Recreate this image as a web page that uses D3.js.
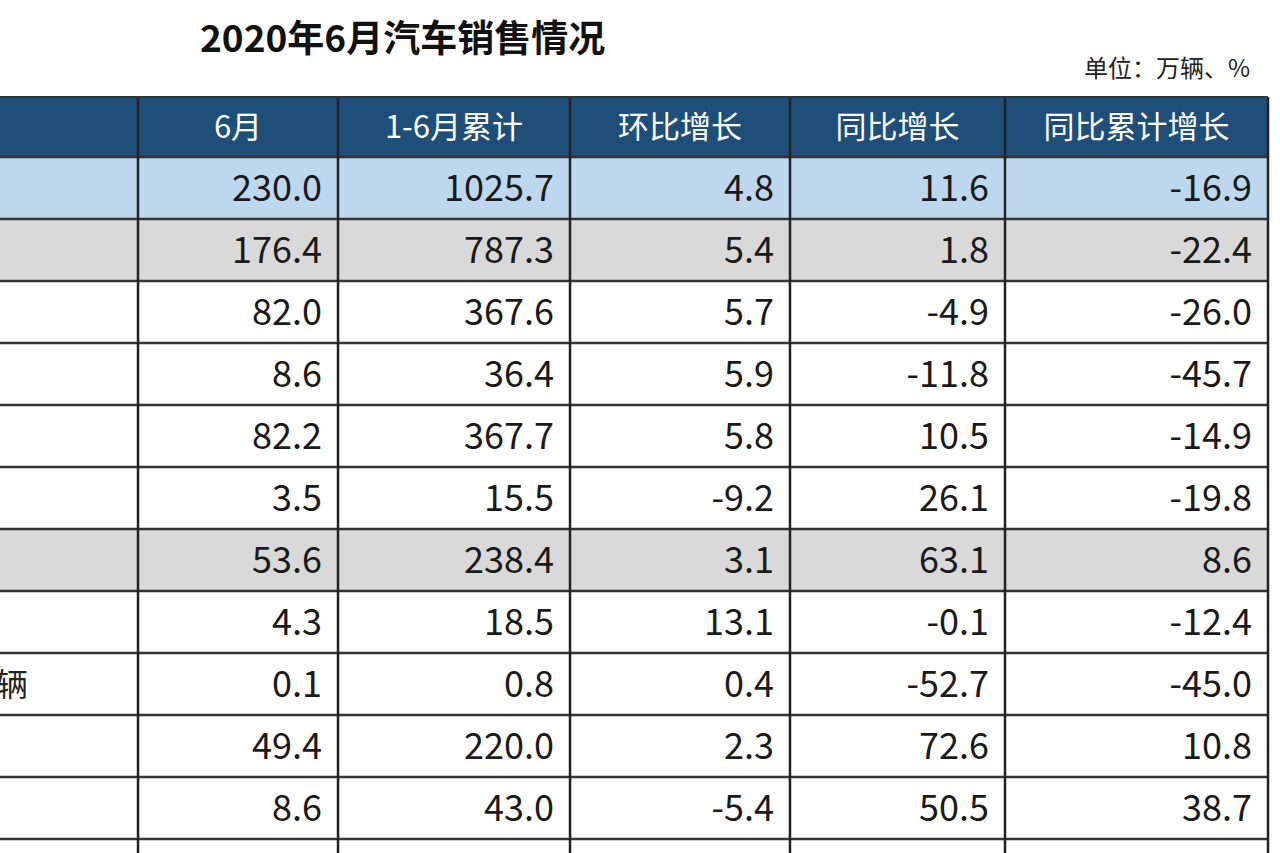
<!DOCTYPE html>
<html>
<head>
<meta charset="utf-8">
<script src="https://cdn.jsdelivr.net/npm/d3@7"></script>
<style>
  body { margin: 0; background: #fff; }
  text { font-family: "Noto Sans CJK SC", "Noto Sans", sans-serif; }
</style>
</head>
<body>
<div id="chart"></div>
<script>
// table contents
var headers = ['', '6月', '1-6月累计', '环比增长', '同比增长', '同比累计增长'];
var rowNames = ['汽车', '乘用车', '轿车', 'MPV', 'SUV', '交叉型乘用车', '商用车', '客车',
    '其中：非完整车辆', '货车', '半挂牵引车', ''];
var juneSales = [230.0, 176.4, 82.0, 8.6, 82.2, 3.5, 53.6, 4.3, 0.1, 49.4, 8.6, null];
var cumSales = [1025.7, 787.3, 367.6, 36.4, 367.7, 15.5, 238.4, 18.5, 0.8, 220.0, 43.0, null];
var momGrowth = [4.8, 5.4, 5.7, 5.9, 5.8, -9.2, 3.1, 13.1, 0.4, 2.3, -5.4, null];
var yoyGrowth = [11.6, 1.8, -4.9, -11.8, 10.5, 26.1, 63.1, -0.1, -52.7, 72.6, 50.5, null];
var yoyCumGrowth = [-16.9, -22.4, -26.0, -45.7, -14.9, -19.8, 8.6, -12.4, -45.0, 10.8, 38.7, null];
var rowStyle = ['total', 'sub', '', '', '', '', 'sub', '', '', '', '', ''];

var width = 1280, height = 853;
var colEdges = [-230, 138, 338, 570, 790, 1005, 1268];
var tableTop = 97, headerH = 60, rowH = 62;

var svg = d3.select('#chart').append('svg')
    .attr('width', width).attr('height', height);

var rows = d3.range(rowNames.length);
var y = d3.scaleBand().domain(rows)
    .range([tableTop + headerH, tableTop + headerH + rowH * rows.length]);

var fills = { total: '#bdd7ee', sub: '#d9d9d9', '': '#ffffff' };

// title
svg.append('text').attr('x', 200).attr('y', 52)
    .attr('font-size', 37).attr('font-weight', 'bold').attr('fill', '#111')
    .text('2020年6月汽车销售情况');
svg.append('text').attr('x', 1250).attr('y', 77).attr('text-anchor', 'end')
    .attr('font-size', 24).attr('fill', '#222')
    .text('单位：万辆、%');

// header
svg.append('rect').attr('x', -5).attr('y', tableTop).attr('width', colEdges[6] + 5)
    .attr('height', headerH).attr('fill', '#1f4e79');
headers.forEach(function(h, i) {
    if (!h) return;
    svg.append('text')
        .attr('x', (colEdges[i] + colEdges[i + 1]) / 2)
        .attr('y', tableTop + headerH / 2 + 11)
        .attr('text-anchor', 'middle').attr('font-size', 31).attr('fill', '#fff')
        .text(h);
});

// body
var cols = [juneSales, cumSales, momGrowth, yoyGrowth, yoyCumGrowth];
var g = svg.append('g');
rows.forEach(function(r) {
    g.append('rect').attr('x', -5).attr('y', y(r))
        .attr('width', colEdges[6] + 5).attr('height', y.bandwidth())
        .attr('fill', fills[rowStyle[r]]);
    g.append('text').attr('x', -228).attr('y', y(r) + rowH / 2 + 12)
        .attr('font-size', 32).attr('fill', '#222').text(rowNames[r]);
    cols.forEach(function(arr, c) {
        if (arr[r] == null) return;
        g.append('text').attr('x', colEdges[c + 2] - 16)
            .attr('y', y(r) + rowH / 2 + 13)
            .attr('text-anchor', 'end').attr('font-size', 36).attr('fill', '#1a1a1a')
            .text(arr[r].toFixed(1));
    });
});

// grid lines
rows.forEach(function(r) {
    svg.append('line').attr('x1', 0).attr('x2', colEdges[6])
        .attr('y1', y(r)).attr('y2', y(r))
        .attr('stroke', '#333').attr('stroke-width', 2.5);
});
colEdges.slice(1).forEach(function(x) {
    svg.append('line').attr('x1', x).attr('x2', x)
        .attr('y1', tableTop).attr('y2', height)
        .attr('stroke', '#222').attr('stroke-width', 2.5);
});
svg.append('line').attr('x1', 0).attr('x2', colEdges[6])
    .attr('y1', tableTop).attr('y2', tableTop).attr('stroke', '#333').attr('stroke-width', 2);
</script>
</body>
</html>
